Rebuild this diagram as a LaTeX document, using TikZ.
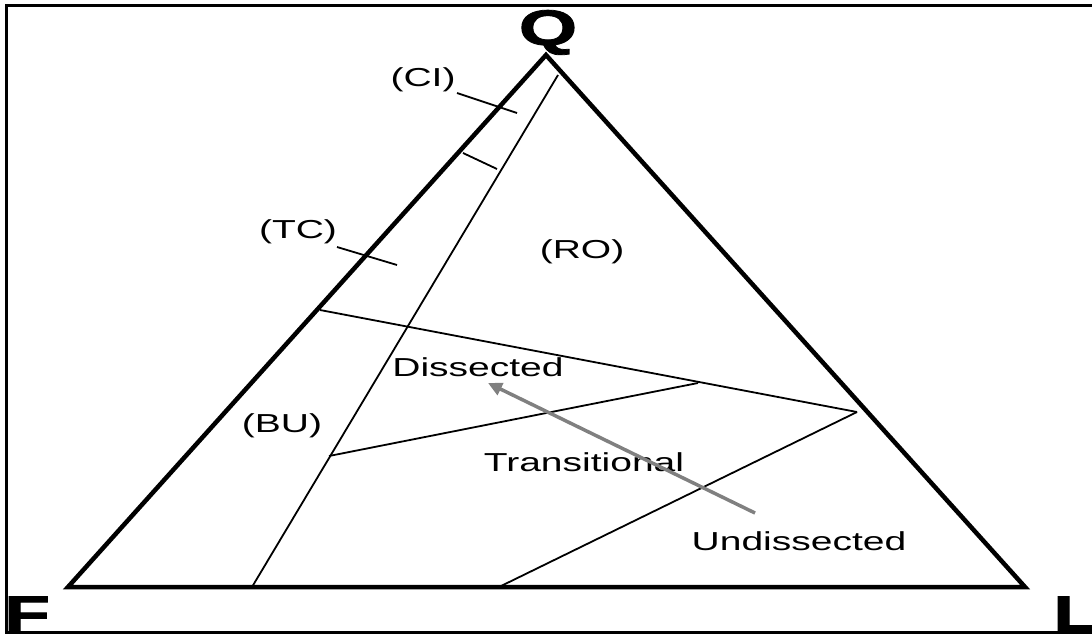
\documentclass[tikz,border=0pt]{standalone}
\usepackage{fontspec}
\setmainfont{Liberation Sans}
\newfontfamily\heavyfont[BoldFeatures={FakeBold=1.5}]{Liberation Sans}
\usetikzlibrary{arrows.meta}
\begin{document}
\begin{tikzpicture}[x=1pt,y=-1pt,
  thick edge/.style={line width=4.5pt,line join=miter},
  thin edge/.style={line width=1.8pt},
  lab/.style={font=\fontsize{26}{28}\selectfont,inner sep=0pt},
  corner/.style={font=\heavyfont\bfseries\fontsize{50}{50}\selectfont,inner sep=0pt}]
\useasboundingbox (0,0) rectangle (1092,635);
\begin{scope}
\clip (0,0) rectangle (1092,635);
% frame
\draw[line width=3pt] (1100,5.5) -- (6.5,5.5) -- (6.5,632) -- (1100,632);
% corner letters
\node[corner,anchor=base] (q) at (548,45) {\scalebox{1.5}[1]{Q}};
\node[corner,anchor=base west] (f) at (4,631) {\scalebox{1.5}[1]{F}};
\node[corner,anchor=base west] (l) at (1053,631) {\scalebox{1.5}[1]{L}};
\end{scope}
% vertices
\coordinate (Q) at (546,55);
\coordinate (F) at (68,587);
\coordinate (L) at (1025,587);
% triangle
\draw[thick edge] (F) -- (Q) -- (L) -- cycle;
% inner lines
\coordinate (i1) at (558,75);
\coordinate (i2) at (252,587);
\draw[thin edge] (i1) -- (i2);
\coordinate (a1) at (320,310);
\coordinate (a2) at (857,412);
\draw[thin edge] (a1) -- (a2);
\coordinate (b1) at (329,456);
\coordinate (b2) at (698,383);
\draw[thin edge] (b1) -- (b2);
\coordinate (c1) at (499,587);
\draw[thin edge] (c1) -- (a2);
\coordinate (d1) at (463,153);
\coordinate (d2) at (497,169);
\draw[thin edge] (d1) -- (d2);
% ticks
\coordinate (ci1) at (457,93);
\coordinate (ci2) at (517,113);
\draw[thin edge] (ci1) -- (ci2);
\coordinate (tc1) at (337,247);
\coordinate (tc2) at (397,265);
\draw[thin edge] (tc1) -- (tc2);
% labels
\node[lab] (ci) at (423,80) {\scalebox{1.5}[1]{(CI)}};
\node[lab] (tc) at (298,232) {\scalebox{1.5}[1]{(TC)}};
\node[lab] (ro) at (582,252) {\scalebox{1.5}[1]{(RO)}};
\node[lab] (ds) at (478,367) {\scalebox{1.5}[1]{Dissected}};
\node[lab] (bu) at (282,426) {\scalebox{1.5}[1]{(BU)}};
\node[lab] (tr) at (584,462) {\scalebox{1.5}[1]{Transitional}};
\node[lab] (un) at (799,541) {\scalebox{1.5}[1]{Undissected}};
% arrow
\coordinate (ar1) at (755,513);
\coordinate (ar2) at (488,383);
\draw[line width=3.5pt,color=black!50,-{Triangle[length=14pt,width=13pt]}] (ar1) -- (ar2);
\end{tikzpicture}
\end{document}
